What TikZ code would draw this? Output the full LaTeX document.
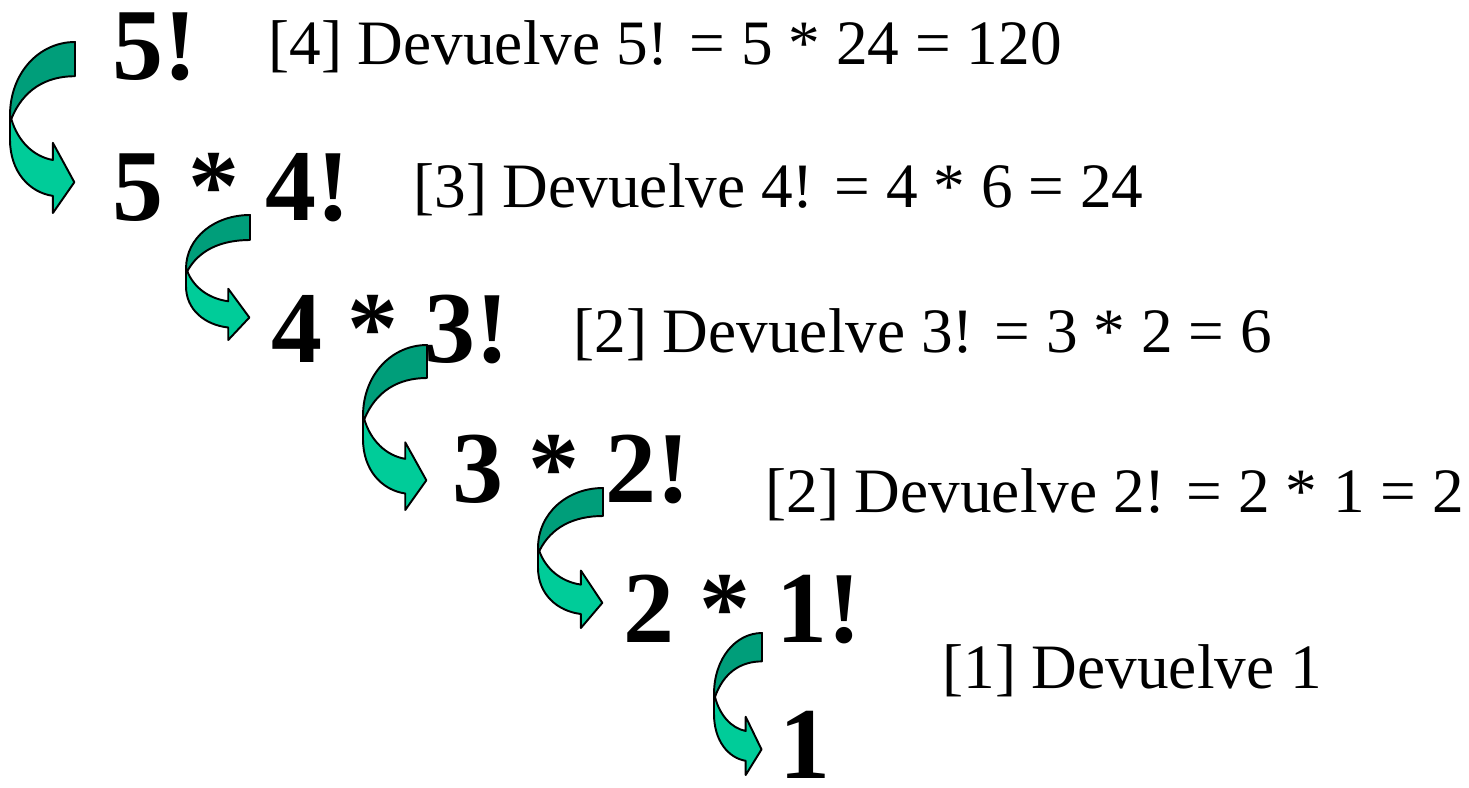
\documentclass[tikz,border=0pt]{standalone}
\usepackage{fontspec}
\setmainfont{Liberation Serif}
\usetikzlibrary{positioning}
\definecolor{recdark}{RGB}{0,158,122}
\definecolor{reclight}{RGB}{0,204,153}
\tikzset{
  bigterm/.style={anchor=base west, inner sep=0pt, font=\fontsize{58}{60}\selectfont\bfseries},
  retnote/.style={anchor=base west, inner sep=0pt, font=\fontsize{36}{40}\selectfont},
  bandup/.style={draw=black, fill=recdark, line width=1.1pt, line join=round},
  banddown/.style={draw=black, fill=reclight, line width=1.1pt, line join=round},
  pics/recarrow/.style={code={
    \draw[banddown] (0,0.43) -- (0,0.57) .. controls (0,0.76) and (0.3,0.88) .. (0.66,0.9)
      -- (0.66,1) -- (0.99,0.82) -- (0.66,0.59) -- (0.66,0.69)
      .. controls (0.36,0.67) and (0.12,0.58) .. (0.02,0.45) -- cycle;
    \draw[bandup] (1,0) .. controls (0.45,0) and (0,0.18) .. (0,0.43)
      -- (0.02,0.45) .. controls (0.2,0.28) and (0.55,0.2) .. (1,0.2) -- cycle;
  }},
}
\begin{document}
\begin{tikzpicture}[x=0.02cm, y=-0.02cm]
    \useasboundingbox (0,0) rectangle (1469,787);
    % recursive calls
    \node[bigterm] (f5) at (112,80) {5!};
    \node[bigterm] (f4) at (112,220) {5 * 4!};
    \node[bigterm] (f3) at (271,362) {4 * 3!};
    \node[bigterm] (f2) at (452,502) {3 * 2!};
    \node[bigterm] (f1) at (623,642) {2 * 1!};
    \node[bigterm] (f0) at (779,778) {1};
    % returned values
    \node[retnote] (r4) at (268,65) {[4] Devuelve 5! = 5 * 24 = 120};
    \node[retnote] (r3) at (413,208) {[3] Devuelve 4! = 4 * 6 = 24};
    \node[retnote] (r2) at (573,352) {[2] Devuelve 3! = 3 * 2 = 6};
    \node[retnote] (r1) at (765,512) {[2] Devuelve 2! = 2 * 1 = 2};
    \node[retnote] (r0) at (942,688) {[1] Devuelve 1};
    % curved arrows
    \pic[xscale=65, yscale=171] at (10,42) {recarrow};
    \pic[xscale=64, yscale=125] at (186,215) {recarrow};
    \pic[xscale=64, yscale=165] at (363,345) {recarrow};
    \pic[xscale=65, yscale=140] at (538,488) {recarrow};
    \pic[xscale=48, yscale=142] at (714,633) {recarrow};
\end{tikzpicture}
\end{document}
